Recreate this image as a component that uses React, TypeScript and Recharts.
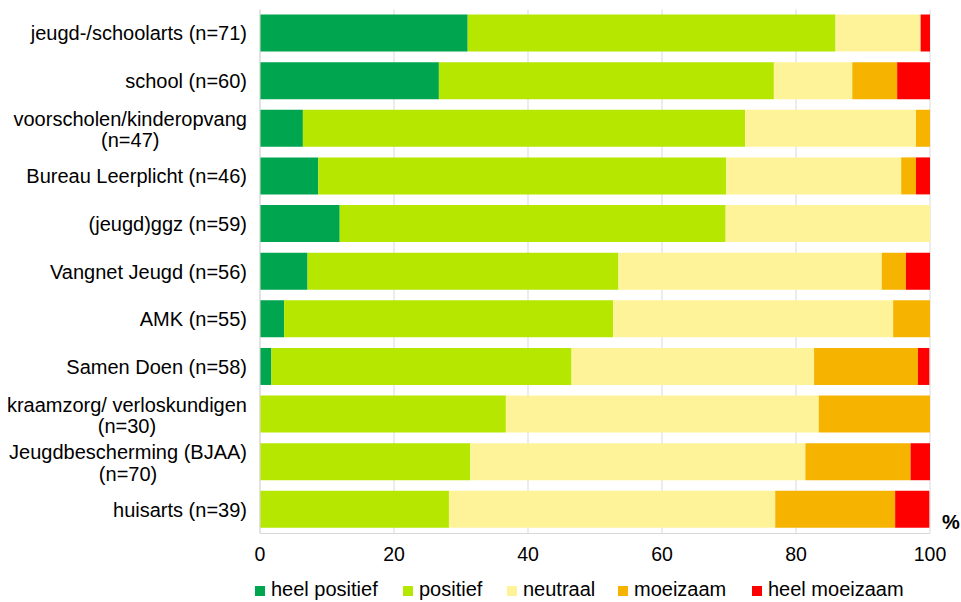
import {
  BarChart,
  Bar,
  XAxis,
  YAxis,
  CartesianGrid,
  Legend,
} from "recharts";

const categories = [
  "jeugd-/schoolarts (n=71)",
  "school (n=60)",
  "voorscholen/kinderopvang (n=47)",
  "Bureau Leerplicht (n=46)",
  "(jeugd)ggz (n=59)",
  "Vangnet Jeugd (n=56)",
  "AMK (n=55)",
  "Samen Doen (n=58)",
  "kraamzorg/ verloskundigen (n=30)",
  "Jeugdbescherming (BJAA) (n=70)",
  "huisarts (n=39)",
];

// percentages per category
const heelPositief = [31.0, 26.7, 6.4, 8.7, 11.9, 7.1, 3.6, 1.7, 0, 0, 0];
const positief = [54.9, 50.0, 66.0, 60.9, 57.6, 46.4, 49.1, 44.8, 36.7, 31.4, 28.2];
const neutraal = [12.7, 11.7, 25.5, 26.1, 30.5, 39.3, 41.8, 36.2, 46.7, 50.0, 48.7];
const moeizaam = [0, 6.7, 2.1, 2.2, 0, 3.6, 5.5, 15.5, 16.7, 15.7, 17.9];
const heelMoeizaam = [1.4, 5.0, 0, 2.2, 0, 3.6, 0, 1.7, 0, 2.9, 5.1];

const xTicks = [0, 20, 40, 60, 80, 100];

const series = [
  { key: "heelPositief", name: "heel positief", color: "#00A54F" },
  { key: "positief", name: "positief", color: "#B6E700" },
  { key: "neutraal", name: "neutraal", color: "#FFF399" },
  { key: "moeizaam", name: "moeizaam", color: "#F6B400" },
  { key: "heelMoeizaam", name: "heel moeizaam", color: "#FF0000" },
];

const data = categories.map((name, i) => ({
  name,
  heelPositief: heelPositief[i],
  positief: positief[i],
  neutraal: neutraal[i],
  moeizaam: moeizaam[i],
  heelMoeizaam: heelMoeizaam[i],
}));

const FONT = "'Liberation Sans', Arial, sans-serif";
const FONT_SIZE = 20;

let ctx: CanvasRenderingContext2D | null = null;
function measure(s: string) {
  if (!ctx && typeof document !== "undefined") {
    ctx = document.createElement("canvas").getContext("2d");
  }
  if (!ctx) return s.length * FONT_SIZE * 0.5;
  ctx.font = `${FONT_SIZE}px ${FONT}`;
  return ctx.measureText(s).width;
}

function wrap(label: string, maxWidth: number) {
  const words = label.split(" ");
  const lines: string[] = [];
  let cur = "";
  for (const w of words) {
    const next = cur ? cur + " " + w : w;
    if (cur && measure(next) > maxWidth) {
      lines.push(cur);
      cur = w;
    } else {
      cur = next;
    }
  }
  if (cur) lines.push(cur);
  return lines;
}

function CategoryTick(props: any) {
  const { x, y, payload } = props;
  const lines = wrap(String(payload.value), 245);
  if (lines.length === 1) {
    return (
      <text x={x} y={y} dy="0.355em" textAnchor="end" fontSize={FONT_SIZE} fill="#000" fontFamily={FONT}>
        {lines[0]}
      </text>
    );
  }
  const maxW = Math.max(...lines.map(measure));
  const cx = x - maxW / 2;
  const step = 21.5;
  return (
    <text textAnchor="middle" fontSize={FONT_SIZE} fill="#000" fontFamily={FONT}>
      {lines.map((l, i) => (
        <tspan key={i} x={cx} y={y + (i - (lines.length - 1) / 2) * step + 1} dy="0.355em">
          {l}
        </tspan>
      ))}
    </text>
  );
}

const legendLeft = [255, 403, 507, 618, 752];

function LegendContent() {
  return (
    <div style={{ position: "relative", height: 20, fontFamily: FONT }}>
      {series.map((s, i) => (
        <div key={s.key} style={{ position: "absolute", left: legendLeft[i], top: -4, whiteSpace: "nowrap" }}>
          <span
            style={{
              position: "absolute",
              left: 0,
              top: 8,
              width: 10,
              height: 10,
              background: s.color,
            }}
          />
          <span
            style={{
              position: "absolute",
              left: 16,
              top: 0,
              fontSize: FONT_SIZE,
              lineHeight: "23px",
              color: "#000",
            }}
          >
            {s.name}
          </span>
        </div>
      ))}
    </div>
  );
}

export default function App() {
  return (
    <div style={{ position: "absolute", left: 0, top: 0, fontFamily: FONT }}>
      <BarChart
        width={961}
        height={602}
        data={data}
        layout="vertical"
        barSize={37}
        margin={{ top: 9.5, right: 31, bottom: 0, left: 0 }}
      >
        <CartesianGrid horizontal={false} stroke="#D9D9D9" />
        <XAxis
          type="number"
          domain={[0, 100]}
          ticks={xTicks}
          allowDataOverflow
          height={48.5}
          tickSize={0}
          tickMargin={14}
          tickLine={false}
          axisLine={{ stroke: "#D9D9D9" }}
          tick={{ fontSize: 19.5, fill: "#000", fontFamily: FONT }}
          label={{
            content: (p: any) => (
              <text
                x={p.viewBox.x + p.viewBox.width + 12}
                y={p.viewBox.y - 5}
                fontSize={FONT_SIZE}
                fontWeight="bold"
                fill="#000"
                fontFamily={FONT}
              >
                %
              </text>
            ),
          }}
        />
        <XAxis
          xAxisId="top"
          orientation="top"
          type="number"
          domain={[0, 100]}
          height={0}
          tick={false}
          tickLine={false}
          axisLine={{ stroke: "#D9D9D9" }}
        />
        <YAxis
          type="category"
          dataKey="name"
          width={260}
          tickSize={0}
          tickMargin={13}
          tickLine={false}
          axisLine={{ stroke: "#D9D9D9" }}
          interval={0}
          tick={<CategoryTick />}
        />
        <Legend verticalAlign="bottom" content={<LegendContent />} />
        {series.map((s) => (
          <Bar
            key={s.key}
            dataKey={s.key}
            name={s.name}
            stackId="a"
            fill={s.color}
            isAnimationActive={false}
          />
        ))}
      </BarChart>
    </div>
  );
}
